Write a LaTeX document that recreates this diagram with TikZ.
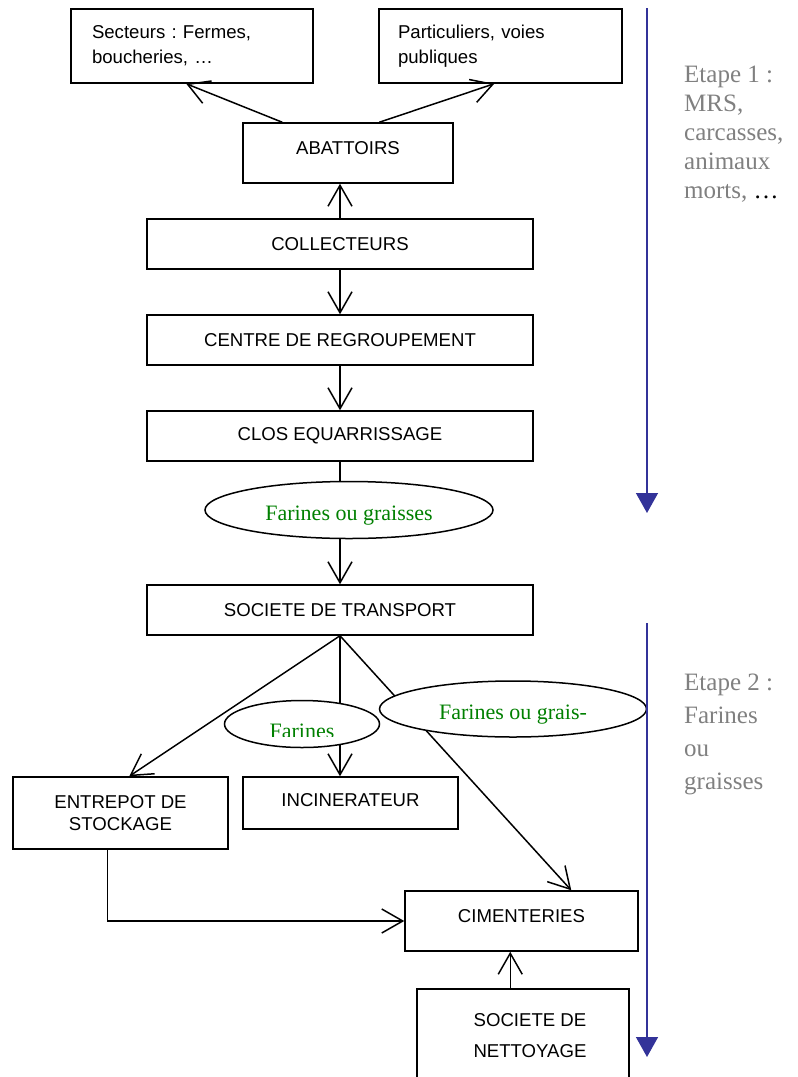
\documentclass[tikz,border=0pt]{standalone}
\usepackage{fontspec}
\setmainfont{Liberation Serif}
\setsansfont{Liberation Sans}
\usetikzlibrary{arrows.meta,shapes.geometric,calc}
\definecolor{stepblue}{RGB}{51,51,153}
\definecolor{fgreen}{RGB}{0,128,0}
\definecolor{stepgray}{RGB}{128,128,128}
\frenchspacing
\begin{document}
\begin{tikzpicture}[x=1pt,y=-1pt,
  box/.style={draw, line width=1.5pt, rectangle, inner sep=0pt, font=\sffamily\fontsize{18.6}{25}\selectfont, align=center},
  conn/.style={line width=1.5pt, -{Straight Barb[length=21pt,width=24pt,line width=1.5pt]}},
  oval/.style={draw, ellipse, line width=1.5pt, fill=white, inner sep=0pt, text=fgreen, font=\fontsize{22}{26}\selectfont, text height=20pt, text depth=0pt},
  ovaltext/.style={inner sep=0pt, text=fgreen, font=\fontsize{22}{26}\selectfont},
  stage/.style={line width=1.5pt, draw=stepblue, -{Triangle[length=20pt,width=22pt,fill=stepblue]}},
  note/.style={text=stepgray, align=left, anchor=north west, inner sep=0pt}]
\useasboundingbox (0,0) rectangle (798,1077);

% boxes
\node[box, minimum width=242pt, minimum height=74pt, inner xsep=21pt, text width=200pt, align=left] (sect) at (192,46) {Secteurs : Fermes,\\boucheries, …};
\node[box, minimum width=243pt, minimum height=74pt, inner xsep=19pt, text width=205pt, align=left] (part) at (500.5,46) {Particuliers, voies\\publiques};
\node[box, minimum width=210pt, minimum height=60pt, text height=13pt, text depth=10pt] (abat) at (348,153) {ABATTOIRS};
\node[box, minimum width=386pt, minimum height=50pt] (coll) at (340,244) {COLLECTEURS};
\node[box, minimum width=386pt, minimum height=50pt] (centre) at (340,340) {CENTRE DE REGROUPEMENT};
\node[box, minimum width=386pt, minimum height=50pt] (clos) at (340,436) {CLOS EQUARRISSAGE};
\node[box, minimum width=386pt, minimum height=50pt] (trans) at (340,610) {SOCIETE DE TRANSPORT};
\node[box, minimum width=215pt, minimum height=72pt, font=\sffamily\fontsize{18.6}{22}\selectfont] (ent) at (120.5,813) {ENTREPOT DE\\STOCKAGE};
\node[box, minimum width=215pt, minimum height=52pt, text height=13pt, text depth=6pt] (inc) at (350.5,803) {INCINERATEUR};
\node[box, minimum width=233pt, minimum height=60pt, text height=13pt, text depth=10pt] (cim) at (521.5,921) {CIMENTERIES};
\node[box, minimum width=212pt, minimum height=132pt, anchor=north,
  label={[font=\sffamily\fontsize{18.6}{31}\selectfont, align=center, xshift=7pt, yshift=19.5pt]center:{SOCIETE DE\\NETTOYAGE}}] (net) at (523,988) {};

% connector end points
\coordinate (abL) at ($(abat.north west)+(40,0)$);
\coordinate (sectT) at ($(sect.south west)+(116,0)$);
\coordinate (abR) at ($(abat.north west)+(137,0)$);
\coordinate (partT) at ($(part.south west)+(116,0)$);
\coordinate (entT) at ($(ent.north west)+(117,0)$);
\coordinate (cimT) at ($(cim.north west)+(167,0)$);
\coordinate (entB) at ($(ent.south west)+(95,0)$);
\coordinate (netT) at ($(net.north west)+(94,0)$);

% connectors
\draw[conn] (abL) -- (sectT);
\draw[conn] (abR) -- (partT);
\draw[conn] (coll.north) -- (coll.north |- abat.south);
\draw[conn] (coll.south) -- (centre.north);
\draw[conn] (centre.south) -- (clos.north);
\draw[conn] (clos.south) -- (trans.north);
\draw[conn] (trans.south) -- (entT);
\draw[conn] (trans.south) -- (trans.south |- inc.north);
\draw[conn] (trans.south) -- (cimT);
\draw[conn] (entB) |- (cim.west);
\draw[conn] (netT) -- (netT |- cim.south);

% ellipses
\node[oval, minimum width=288pt, minimum height=57pt] (ell1) at (349,510) {Farines ou graisses};
\node[oval, minimum width=155pt, minimum height=47pt] (ell2) at (302,724) {};
\begin{scope}
  \clip (220,700) rectangle (385,736);
  \node[ovaltext, anchor=base] (ell2t) at (302,738) {Farines};
\end{scope}
\node[oval, minimum width=267pt, minimum height=56pt] (ell3) at (513,709) {Farines ou grais-};

% stage arrows
\coordinate (s1a) at (647,8);
\coordinate (s1b) at (647,513);
\coordinate (s2a) at (647,623);
\coordinate (s2b) at (647,1057);
\draw[stage] (s1a) -- (s1b);
\draw[stage] (s2a) -- (s2b);

% stage notes
\node[note, font=\fontsize{25}{29}\selectfont] (et1) at (684,66) {Etape 1 :\\MRS,\\carcasses,\\animaux\\morts, \textcolor{black}{…}};
\node[note, font=\fontsize{25}{33}\selectfont] (et2) at (684,674) {Etape 2 :\\Farines\\ou\\graisses};
\end{tikzpicture}
\end{document}
